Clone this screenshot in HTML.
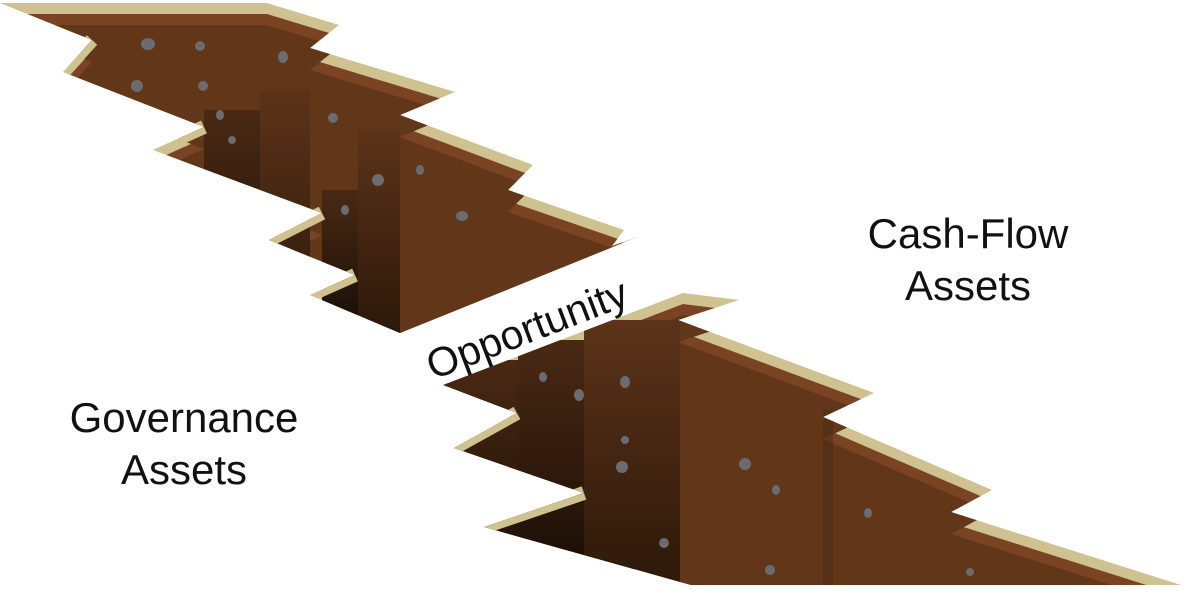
<!DOCTYPE html>
<html><head><meta charset="utf-8"><style>
html,body{margin:0;padding:0;background:#fff;}
svg{display:block}
text{font-family:"Liberation Sans",sans-serif;fill:#111}
</style></head><body>
<svg width="1200" height="591" viewBox="0 0 1200 591" xmlns="http://www.w3.org/2000/svg">
<defs>
<clipPath id="c1"><polygon points="0,3 267,3 339,25 310,48 455,92 400,115 533,165 508,190 624,230 612,246 640,236 400,333 310,295 355,275 269,240 322,213 153,150 204,127 63,72 92,40"/></clipPath>
<clipPath id="c2"><polygon points="443,385 683,293 739,300 678,320 874,393 823,417 992,490 951,512 1181,585 691,585 484,527 584,493 454,448 517,413"/></clipPath>
<linearGradient id="dk" x1="0" y1="0" x2="0" y2="1"><stop offset="0" stop-color="#4a2914"/><stop offset="1" stop-color="#140b04"/></linearGradient>
<linearGradient id="md" x1="0" y1="0" x2="0" y2="1"><stop offset="0" stop-color="#5c3319"/><stop offset="1" stop-color="#2a1709"/></linearGradient>
</defs>
<g clip-path="url(#c1)">
<rect x="0" y="0" width="700" height="340" fill="#cfc190"/>
<polygon transform="translate(0,11)" points="0,3 267,3 339,25 310,48 455,92 400,115 533,165 508,190 624,230 612,246 640,236 400,333 310,295 355,275 269,240 322,213 153,150 204,127 63,72 92,40" fill="#7a4424"/>
<polygon transform="translate(0,22)" points="0,3 267,3 339,25 310,48 455,92 400,115 533,165 508,190 624,230 612,246 640,236 400,333 310,295 355,275 269,240 322,213 153,150 204,127 63,72 92,40" fill="#623719"/>
<rect x="204" y="110" width="56" height="240" fill="url(#dk)"/>
<rect x="260" y="90" width="50" height="250" fill="url(#md)"/>
<rect x="322" y="190" width="36" height="150" fill="url(#dk)"/>
<rect x="358" y="130" width="42" height="210" fill="url(#md)"/>
<g stroke="#cfc190" stroke-width="14" fill="none">
<line x1="92" y1="40" x2="63" y2="72"/><line x1="204" y1="127" x2="153" y2="150"/><line x1="322" y1="213" x2="269" y2="240"/><line x1="355" y1="275" x2="310" y2="295"/>
</g>
<g fill="#6b6b70">
<ellipse cx="148" cy="44" rx="7" ry="6"/><ellipse cx="200" cy="46" rx="5" ry="5"/><ellipse cx="283" cy="57" rx="5" ry="6"/>
<ellipse cx="137" cy="86" rx="6" ry="6"/><ellipse cx="203" cy="86" rx="5" ry="5"/><ellipse cx="220" cy="115" rx="4" ry="5"/>
<ellipse cx="333" cy="118" rx="5" ry="5"/><ellipse cx="378" cy="180" rx="6" ry="6"/><ellipse cx="462" cy="216" rx="6" ry="5"/>
<ellipse cx="345" cy="210" rx="4" ry="5"/><ellipse cx="232" cy="140" rx="4" ry="4"/><ellipse cx="420" cy="170" rx="4" ry="5"/>
</g>
</g>
<g clip-path="url(#c2)">
<rect x="430" y="280" width="770" height="320" fill="#cfc190"/>
<polygon transform="translate(0,11)" points="443,385 683,293 739,300 678,320 874,393 823,417 992,490 951,512 1181,585 691,585 484,527 584,493 454,448 517,413" fill="#7a4424"/>
<polygon transform="translate(0,22)" points="443,385 683,293 739,300 678,320 874,393 823,417 992,490 951,512 1181,585 691,585 484,527 584,493 454,448 517,413" fill="#623719"/>
<rect x="440" y="360" width="78" height="240" fill="url(#dk)"/>
<rect x="518" y="340" width="66" height="260" fill="url(#dk)"/>
<rect x="584" y="320" width="96" height="280" fill="url(#md)"/>
<rect x="823" y="410" width="10" height="180" fill="#4a2914" opacity="0.5"/>
<g stroke="#cfc190" stroke-width="14" fill="none">
<line x1="517" y1="413" x2="454" y2="448"/><line x1="584" y1="493" x2="484" y2="527"/>
</g>
<g fill="#6b6b70">
<ellipse cx="543" cy="377" rx="4" ry="5"/><ellipse cx="579" cy="395" rx="5" ry="6"/><ellipse cx="625" cy="382" rx="5" ry="6"/>
<ellipse cx="622" cy="467" rx="6" ry="6"/><ellipse cx="745" cy="464" rx="6" ry="6"/><ellipse cx="776" cy="490" rx="4" ry="5"/>
<ellipse cx="868" cy="513" rx="4" ry="5"/><ellipse cx="625" cy="440" rx="4" ry="4"/><ellipse cx="664" cy="543" rx="5" ry="5"/>
<ellipse cx="770" cy="570" rx="5" ry="5"/><ellipse cx="970" cy="572" rx="4" ry="4"/>
</g>
</g>
<text x="0" y="0" font-size="41" text-anchor="middle" transform="translate(532,342) rotate(-21)">Opportunity</text>
<text x="968" y="248" font-size="42" text-anchor="middle">Cash-Flow</text>
<text x="968" y="300" font-size="42" text-anchor="middle">Assets</text>
<text x="184" y="432" font-size="42" text-anchor="middle">Governance</text>
<text x="184" y="484" font-size="42" text-anchor="middle">Assets</text>
</svg>
</body></html>
